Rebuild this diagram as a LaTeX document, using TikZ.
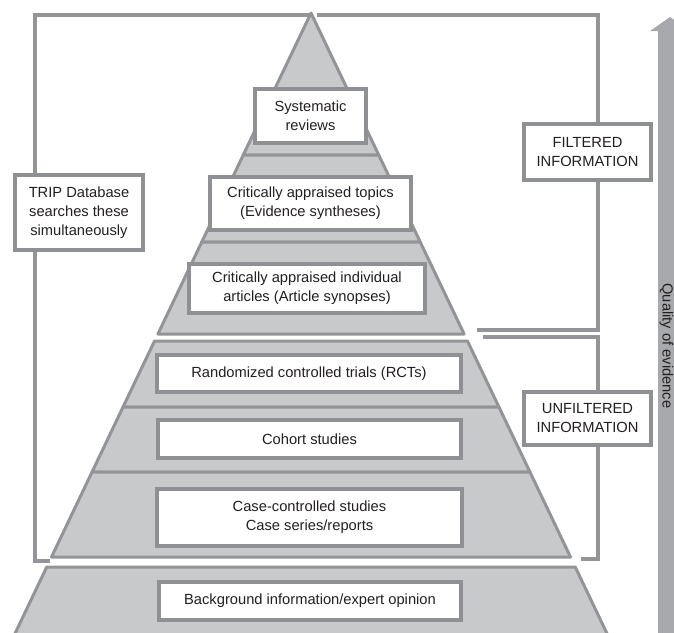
\documentclass[tikz,border=0pt]{standalone}
\usepackage{fontspec}
\setmainfont{Liberation Sans}
\definecolor{pyrfill}{HTML}{C8C9CB}
\definecolor{pyrline}{HTML}{929497}
\definecolor{boxline}{HTML}{8E9093}
\definecolor{brk}{HTML}{939598}
\definecolor{arrowgray}{HTML}{A7A9AC}
\definecolor{txt}{HTML}{231F20}
\newcommand\lbl{\fontsize{14.7pt}{19pt}\selectfont}
% one slice of the pyramid between two heights (apex at y=13, centre x=311)
\newcommand\pyrslice[2]{%
  \pgfmathsetmacro\slta{0.477*(#1-13)}%
  \pgfmathsetmacro\sltb{0.477*(#2-13)}%
  \path[slice] ({311-\slta},#1) -- ({311+\slta},#1) -- ({311+\sltb},#2) -- ({311-\sltb},#2) -- cycle;}
\begin{document}
\begin{tikzpicture}[x=1pt,y=-1pt,
  slice/.style={fill=pyrfill, draw=pyrline, line width=3pt, line join=round},
  bracket/.style={draw=brk, line width=4pt},
  labelbox/.style={draw=boxline, line width=4pt, fill=white, align=center,
    inner sep=0pt, font=\lbl, text=txt},
]
\useasboundingbox (0,0) rectangle (674,632);
\clip (0,0) rectangle (674,632);

% quality arrow at the right edge
\fill[arrowgray] (658,31) -- (650,31) -- (670,17) -- (690,31) -- (682,31) -- (682,650) -- (658,650) -- cycle;
\node[rotate=-90, font=\lbl, text=txt, inner sep=0pt] (quality) at (666.5,346) {Quality of evidence};

% brackets
\coordinate (tripA) at (309,15);
\coordinate (tripB) at (35,15);
\coordinate (tripC) at (35,561);
\coordinate (tripD) at (50,561);
\coordinate (filtA) at (317,15);
\coordinate (filtB) at (598,15);
\coordinate (filtC) at (598,330);
\coordinate (filtD) at (477,330);
\coordinate (unfA) at (483,337);
\coordinate (unfB) at (598,337);
\coordinate (unfC) at (598,559);
\coordinate (unfD) at (581,559);
\draw[bracket] (tripA) -- (tripB) -- (tripC) -- (tripD);
\draw[bracket] (filtA) -- (filtB) -- (filtC) -- (filtD);
\draw[bracket] (unfA) -- (unfB) -- (unfC) -- (unfD);

% pyramid: filtered part
\pyrslice{13}{155}
\pyrslice{155}{242}
\pyrslice{242}{334}
% unfiltered part
\pyrslice{341}{407}
\pyrslice{407}{472}
\pyrslice{472}{557}
% base
\pyrslice{567}{660}

% level labels
\node[labelbox, minimum width=111pt, minimum height=54pt] (sr) at (310.5,116) {Systematic\\reviews};
\node[labelbox, minimum width=201pt, minimum height=53pt] (cat) at (310.5,203.5) {Critically appraised topics\\(Evidence syntheses)};
\node[labelbox, minimum width=236pt, minimum height=49pt] (cai) at (307,288.5) {Critically appraised individual\\articles (Article synopses)};
\node[labelbox, minimum width=304pt, minimum height=37pt] (rct) at (309,373.5) {Randomized controlled trials (RCTs)};
\node[labelbox, minimum width=303pt, minimum height=38pt] (coh) at (309.5,439) {Cohort studies};
\node[labelbox, minimum width=305pt, minimum height=57pt] (case) at (309.5,517.5) {Case-controlled studies\\Case series/reports};
\node[labelbox, minimum width=302pt, minimum height=38pt] (bg) at (310,601) {Background information/expert opinion};

% side labels
\node[labelbox, minimum width=128pt, minimum height=75pt] (trip) at (79,212.5) {TRIP Database\\searches these\\simultaneously};
\node[labelbox, minimum width=127pt, minimum height=56pt] (filt) at (587.5,152) {FILTERED\\INFORMATION};
\node[labelbox, minimum width=127pt, minimum height=53pt] (unf) at (587.5,418.5) {UNFILTERED\\INFORMATION};
\end{tikzpicture}
\end{document}
